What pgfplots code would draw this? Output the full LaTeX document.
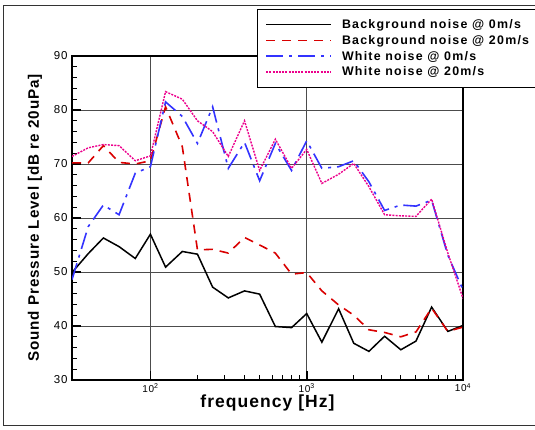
\documentclass[border=0pt]{standalone}
\usepackage{pgfplots}
\pgfplotsset{compat=1.18}
\usepackage{pgfplotstable}
\usepackage{fontspec}
\setmainfont{Liberation Sans}
\newfontfamily\trk[LetterSpace=6]{Liberation Sans}
\newfontfamily\trkl[LetterSpace=10]{Liberation Sans}
\definecolor{myblue}{rgb}{0.2,0.2,1}
\definecolor{myred}{rgb}{0.85,0,0}
\pgfplotstableread{
f     bga   bgb   wna   wnb
31.5  49.9  70.2  48.6  71.4
40    53.4  70.2  58.4  73.0
50    56.3  73.4  62.4  73.6
63    54.7  70.3  60.6  73.4
80    52.5  70.0  68.3  70.6
100   57.0  70.6  69.5  71.5
125   50.9  80.6  81.5  83.4
160   53.8  73.2  78.8  82.0
200   53.3  54.1  73.8  78.0
250   47.2  54.2  80.6  76.0
315   45.2  53.5  69.2  71.4
400   46.5  56.4  74.0  78.0
500   45.9  55.0  66.9  68.8
630   39.9  53.5  73.8  74.6
800   39.7  49.6  68.8  69.2
1000  42.3  49.9  74.3  72.7
1250  37.0  46.5  69.2  66.4
1600  43.2  43.9  69.5  68.1
2000  36.8  42.0  70.6  70.1
2500  35.3  39.3  66.7  65.8
3150  38.1  38.8  61.4  60.6
4000  35.6  38.0  62.4  60.4
5000  37.2  38.9  62.2  60.3
6300  43.5  43.3  63.3  63.5
8000  39.0  39.0  53.1  53.5
10000 40.1  39.8  46.7  45.1
}\spl
\begin{document}
\begin{tikzpicture}
\useasboundingbox (-72pt,-50pt) rectangle (463pt,380pt);
\draw[black!80, line width=1pt] (-68pt,-46pt) rectangle (480pt,374pt);
\begin{axis}[
  at={(0pt,0pt)}, anchor=south west,
  scale only axis, width=391pt, height=324pt,
  xmode=log, xmin=31.5, xmax=10000,
  ymin=30, ymax=90,
  xtick={100,1000,10000},
  xticklabels={10\textsuperscript{2},10\textsuperscript{3},10\textsuperscript{4}},
  ytick={30,40,...,90},
  minor y tick num=4,
  tick pos=left, tick align=inside,
  major tick length=9pt, minor tick length=5pt,
  every tick/.style={black, line width=1pt},
  every major tick/.append style={line width=1.6pt},
  axis line style={line width=2pt},
  grid=major,
  major grid style={black!70, line width=0.9pt},
  /pgf/number format/assume math mode=true,
  yticklabel style={font=\fontsize{11.5}{13}\selectfont\trk, xshift=-1pt},
  xticklabel style={font=\fontsize{10}{12}\selectfont\trk},
  xlabel={\bfseries frequency [Hz]},
  ylabel={\bfseries Sound Pressure Level [dB re 20uPa]},
  xlabel style={font=\fontsize{17.5}{20}\selectfont\trk, at={(axis description cs:0.5,-0.071)}, anchor=center},
  ylabel style={font=\fontsize{15.2}{17}\selectfont\trk, at={(axis description cs:-0.0946,0.5)}, anchor=center},
  legend style={at={(axis description cs:0.473,1.145)}, anchor=north west,
    draw=black, line width=0.9pt, fill=white,
    font=\fontsize{12.4}{14}\selectfont\trkl\bfseries,
    inner xsep=8pt, inner ysep=8.5pt, row sep=2.3pt,
    nodes={inner ysep=1.5pt},
    /tikz/every odd column/.append style={column sep=8pt}},
  legend cell align=left,
  legend image code/.code={\draw[#1] (0pt,0pt) -- (65pt,0pt);},
]
\addplot[black, line width=1.5pt] table[x=f,y=bga] {\spl};
\addlegendentry{Background noise @ 0m/s}
\addplot[myred, line width=1.6pt, dash pattern=on 9pt off 7pt] table[x=f,y=bgb] {\spl};
\addlegendentry{Background noise @ 20m/s}
\addplot[myblue, line width=1.6pt, dash pattern=on 17pt off 6pt on 3pt off 6pt] table[x=f,y=wna] {\spl};
\addlegendentry{White noise @ 0m/s}
\addplot[magenta, line width=1.4pt, dash pattern=on 2pt off 1.2pt] table[x=f,y=wnb] {\spl};
\addlegendentry{White noise @ 20m/s}
\end{axis}
\end{tikzpicture}
\end{document}
